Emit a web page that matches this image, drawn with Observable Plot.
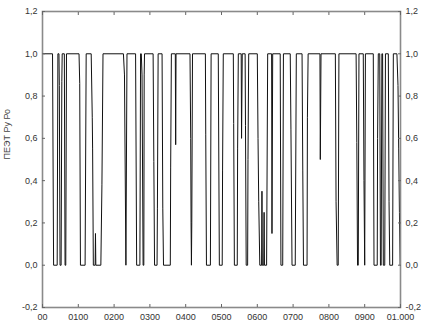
<!DOCTYPE html>
<html>
<head>
<meta charset="utf-8">
<script src="https://cdn.jsdelivr.net/npm/d3@7"></script>
<script src="https://cdn.jsdelivr.net/npm/@observablehq/plot@0.6"></script>
<style>
  html, body { margin: 0; padding: 0; background: #fff; }
  #chart { width: 421px; height: 323px; }
</style>
</head>
<body>
<div id="chart"></div>
<script>
// Sample positions (x) and values (y) of the series
const xs = [0,28,31, 41,43, 46,47,49, 52,54,55, 61,63, 65,67, 102,104,106, 119,122,
  136,139,140,142, 147,148,149, 163,166,169, 226,229,233, 236, 260,263, 272,274,
  276,278,281, 283,284,285, 309,311,313, 320,321,323, 334,336,338, 357,358,360,
  371,372,373, 412,414,415,416,417,419, 455,456,458, 469,471, 491,494, 502,503,505,
  533,534,536, 544,545,547, 555,556,558, 566,567,569, 573,574,576, 600,602,604,607,
  612,613,614,618,619,620, 626,629, 640,641,643, 664,666, 671,673, 692,694,697,
  706,709, 725,727,729, 739,740,742, 775,776,778, 818,820,823, 826,828, 876,878,880,
  882,884, 896,898,900,902, 924,926, 935,936,938, 942,944, 946,948, 950,952, 956,958,
  966,968,970, 978,980, 990,993,995,997,999,1000];
const ys = [1,1,0, 0,1, 1,0.85,0, 0,0.87,1, 1,0, 0,1, 1,0.86,0, 0,1,
  1,0.7,0.55,0, 0,0.15,0, 0,0.38,1, 1,0.9,0, 1, 1,0, 0,1,
  1,0.9,0, 0,0.9,1, 1,0.49,0, 0,0.27,1, 1,0.27,0, 0,0.46,1,
  1,0.57,1, 1,0.6,0.2,0,0.2,1, 1,0.62,0, 0,1, 1,0, 0,0.45,1,
  1,0.67,0, 0,0.55,1, 1,0.6,1, 1,0.66,0, 0,0.5,1, 1,0.6,0.3,0,
  0,0.35,0,0,0.25,0, 0,1, 1,0.15,1, 1,0, 0,1, 1,0.64,0,
  0,1, 1,0.45,0, 0,0.7,1, 1,0.5,1, 1,0.3,0, 0,1, 1,0.58,0,
  0,1, 1,0.4,0,1, 1,0, 0,0.6,1, 1,0, 0,1, 1,0, 0,1,
  1,0.3,0, 0,1, 1,0.85,0.55,0.25,0,0];

const xTicks = [0,100,200,300,400,500,600,700,800,900,1000];
const xTickLabels = ["00","0100","0200","0300","0400","0500","0600","0700","0800","0900","01.000"];
const yTicks = [-0.2,0,0.2,0.4,0.6,0.8,1.0,1.2];
const yTickLabels = ["-0,2","0,0","0,2","0,4","0,6","0,8","1,0","1,2"];
const yTitle = "ПЕЭТ Ру Ро";

const data = xs.map((x, i) => ({x, y: ys[i]}));
const fx = d => xTickLabels[xTicks.indexOf(d)];
const fy = d => yTickLabels[yTicks.indexOf(d)];

const chart = Plot.plot({
  width: 421,
  height: 323,
  marginLeft: 42,
  marginRight: 21,
  marginTop: 11,
  marginBottom: 16,
  x: {domain: [0, 1000]},
  y: {domain: [-0.2, 1.2]},
  style: {fontFamily: "'Liberation Sans', Arial, sans-serif", fontSize: "9px", color: "#333", background: "#fff"},
  marks: [
    Plot.line(data, {x: "x", y: "y", stroke: "#111", strokeWidth: 1}),
    Plot.frame({stroke: "#8a8a8a", strokeWidth: 1.6}),
    Plot.axisY({anchor: "left", ticks: yTicks, tickFormat: fy, tickSize: -3, tickPadding: 8, label: null, stroke: "#666"}),
    Plot.axisY({anchor: "right", ticks: yTicks, tickFormat: fy, tickSize: -3, tickPadding: 8, label: null, stroke: "#666"}),
    Plot.axisX({anchor: "bottom", ticks: xTicks, tickFormat: fx, tickSize: -3, tickPadding: 9, label: null, stroke: "#666"}),
    Plot.axisX({anchor: "top", ticks: xTicks, tickFormat: () => "", tickSize: -3, label: null, stroke: "#666"}),
    Plot.text([yTitle], {frameAnchor: "left", dx: -35, rotate: -90, fill: "#444", fontSize: 9})
  ]
});
document.getElementById("chart").appendChild(chart);
</script>
</body>
</html>
